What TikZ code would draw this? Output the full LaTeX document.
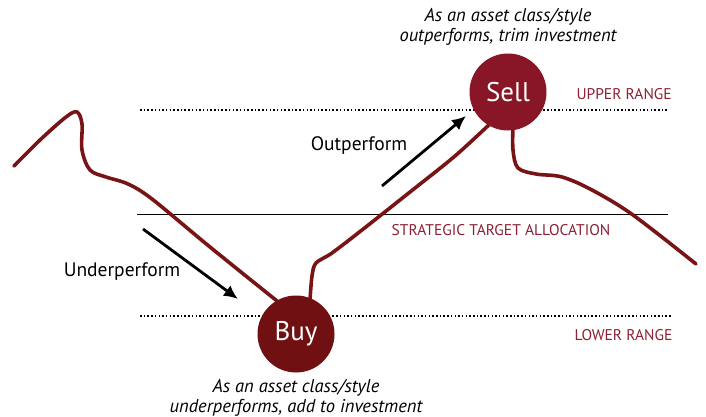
\documentclass[tikz,border=0pt]{standalone}
\usepackage{fontspec}
\setmainfont{PT Sans}
\usetikzlibrary{positioning,arrows.meta}

\definecolor{sellred}{RGB}{137,22,38}
\definecolor{buyred}{RGB}{112,16,18}
\definecolor{trendred}{RGB}{120,20,22}
\definecolor{rangered}{RGB}{140,32,52}

\tikzset{
  trend/.style={draw=trendred, line width=3.6pt, line cap=round},
  rangeline/.style={line width=1.5pt, dash pattern=on 1.5pt off 2.2pt},
  targetline/.style={line width=1pt},
  movearrow/.style={line width=2.8pt, -{Latex[length=14pt,width=13pt]}},
  tradecircle/.style={circle, minimum size=77pt, inner sep=0pt,
                      text=white, font=\fontsize{27}{29}\selectfont},
  rangelabel/.style={text=rangered, font=\fontsize{15.5}{17}\selectfont},
  movelabel/.style={font=\fontsize{19.5}{21}\selectfont},
  note/.style={align=center, font=\itshape\fontsize{18.5}{20}\selectfont}
}

\begin{document}
\begin{tikzpicture}[x=1pt,y=-1pt]
  \useasboundingbox (0,0) rectangle (706,417);

  % range lines
  \draw[rangeline] (140,110) -- (668,110);
  \draw[targetline] (137,214) -- (668,214);
  \draw[rangeline] (140,316) -- (672,316);

  % price path
  \draw[trend] plot[smooth, tension=0.55] coordinates {
    (14,166) (40,140) (66,117) (77,112) (82,124) (82,150) (90,170)
    (106,177) (128,184) (152,199) (210,247) (282,305)};
  \draw[trend] plot[smooth, tension=0.5] coordinates {
    (310,300) (312,276) (316,263) (332,253) (362,230) (410,192)
    (455,156) (492,122)};
  \draw[trend] plot[smooth, tension=0.55] coordinates {
    (513,126) (513,150) (518,168) (536,174) (562,177) (592,190)
    (633,215) (696,264)};

  % buy and sell points
  \node[tradecircle, fill=sellred] (sell) at (508,92) {Sell};
  \node[tradecircle, fill=buyred] (buy) at (296,334) {Buy};

  \node[note] (sellnote) at (508,27) {As an asset class/style\\outperforms, trim investment};
  \node[note] (buynote) at (296,398) {As an asset class/style\\underperforms, add to investment};

  % range names
  \node[rangelabel, anchor=west] (upper) at (573,94) {UPPER RANGE};
  \node[rangelabel] (target) at (501,230) {STRATEGIC TARGET ALLOCATION};
  \node[rangelabel, anchor=west] (lower) at (571,335) {LOWER RANGE};

  % direction arrows
  \coordinate (outtail) at (382,186);
  \coordinate (outtip) at (466,116);
  \coordinate (undertail) at (143,229);
  \coordinate (undertip) at (238,299);
  \draw[movearrow] (outtail) -- (outtip);
  \draw[movearrow] (undertail) -- (undertip);
  \node[movelabel] (outlabel) at (359,146) {Outperform};
  \node[movelabel] (underlabel) at (122,272) {Underperform};
\end{tikzpicture}
\end{document}
